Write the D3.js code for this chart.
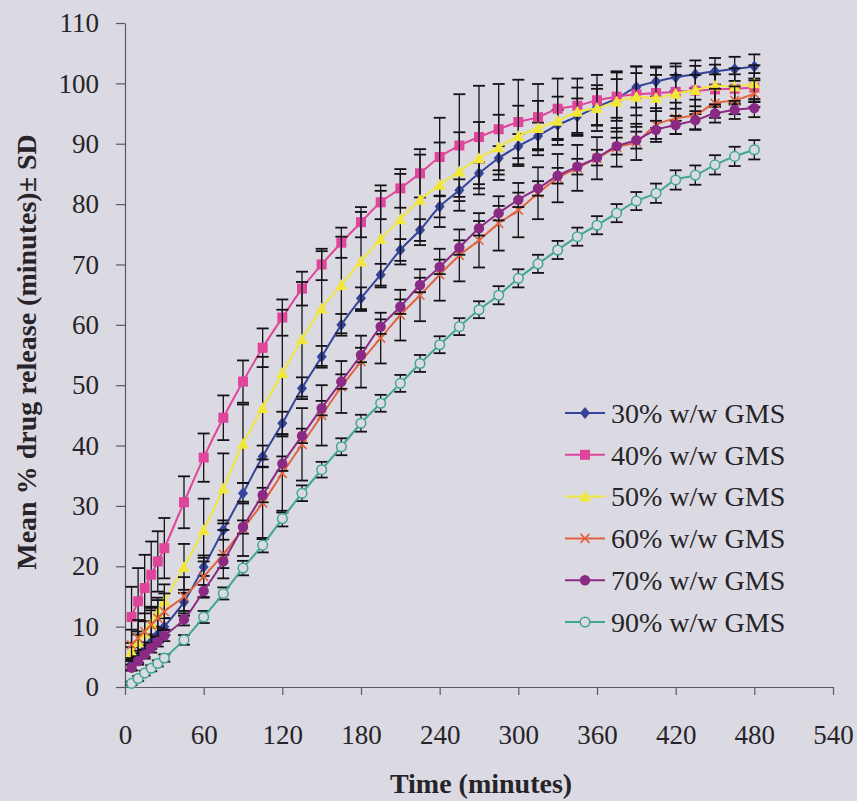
<!DOCTYPE html>
<html>
<head>
<meta charset="utf-8">
<script src="https://cdn.jsdelivr.net/npm/d3@7"></script>
<style>
  html, body { margin: 0; padding: 0; background: #dbd9e1; }
  svg { display: block; }
</style>
</head>
<body>
<svg id="chart" width="857" height="801"></svg>
<script>
// Sampling times (minutes)
const times = [5, 10, 15, 20, 25, 30, 45, 60, 75, 90, 105, 120, 135, 150, 165, 180, 195, 210,
               225, 240, 255, 270, 285, 300, 315, 330, 345, 360, 375, 390, 405, 420, 435, 450, 465, 480];

// Mean % drug release per formulation
const gms30 = [3.8, 5.0, 6.2, 7.5, 8.7, 10.0, 14.1, 19.9, 26.0, 32.1, 38.2, 43.7, 49.5, 54.7, 60.0, 64.4, 68.3, 72.4,
               75.7, 79.6, 82.3, 85.1, 87.6, 89.6, 91.3, 93.1, 94.5, 96.1, 97.5, 99.4, 100.3, 101.0, 101.5, 102.0, 102.4, 102.8];
const gms40 = [11.6, 14.2, 16.4, 18.6, 20.8, 23.0, 30.6, 38.0, 44.6, 50.6, 56.2, 61.2, 66.0, 70.0, 73.6, 77.0, 80.3, 82.6,
               85.1, 87.8, 89.7, 91.1, 92.4, 93.6, 94.4, 95.8, 96.3, 97.2, 97.8, 98.2, 98.4, 98.6, 98.8, 99.0, 99.1, 99.3];
const gms50 = [5.8, 7.4, 8.9, 10.5, 12.3, 14.2, 19.9, 26.0, 32.9, 40.3, 46.2, 52.0, 57.6, 62.7, 66.6, 70.5, 74.2, 77.5,
               80.7, 83.2, 85.4, 87.6, 89.4, 91.3, 92.6, 93.8, 95.3, 95.9, 97.0, 97.8, 97.6, 98.3, 98.9, 99.6, 99.5, 100.0];
const gms60 = [7.0, 8.1, 9.2, 10.3, 11.4, 12.5, 15.0, 18.3, 22.0, 26.2, 30.5, 35.4, 40.2, 45.0, 49.7, 53.9, 57.8, 61.6,
               64.9, 68.3, 71.5, 74.0, 76.8, 79.0, 81.8, 84.3, 86.0, 87.6, 89.4, 90.3, 93.1, 94.2, 94.8, 96.7, 97.2, 98.3];
const gms70 = [3.2, 4.3, 5.4, 6.5, 7.5, 8.5, 11.2, 15.9, 20.8, 26.5, 31.8, 37.0, 41.6, 46.2, 50.6, 55.0, 59.7, 63.0,
               66.6, 69.6, 72.8, 76.0, 78.5, 80.7, 82.6, 84.7, 86.2, 87.7, 89.6, 90.6, 92.3, 93.1, 93.9, 95.0, 95.6, 95.9];
const gms90 = [0.6, 1.4, 2.3, 3.1, 3.9, 4.8, 7.8, 11.6, 15.5, 19.7, 23.5, 27.9, 32.1, 36.0, 39.8, 43.7, 47.0, 50.3,
               53.6, 56.7, 59.7, 62.5, 64.9, 67.7, 70.1, 72.4, 74.6, 76.5, 78.5, 80.5, 81.8, 84.0, 84.8, 86.5, 87.9, 89.0];

// Standard deviations
const sd30 = [1.0, 1.0, 1.2, 1.2, 1.3, 1.4, 1.5, 1.5, 1.6, 1.7, 1.8, 1.9, 1.8, 1.8, 1.8, 1.8, 1.8, 1.8,
              1.8, 1.8, 1.8, 1.8, 2.0, 2.0, 2.2, 2.5, 3.0, 3.0, 3.2, 3.4, 2.5, 2.3, 2.3, 2.2, 2.0, 2.0];
const sd40 = [5.0, 5.5, 5.5, 5.5, 5.0, 5.0, 4.3, 4.0, 3.7, 3.5, 3.2, 3.0, 2.8, 2.6, 2.5, 2.5, 2.8, 3.2,
              4.0, 6.5, 8.5, 8.5, 7.5, 7.0, 5.5, 5.0, 4.5, 4.2, 4.0, 3.5, 3.0, 2.8, 2.6, 2.5, 2.4, 2.4];
const sd50 = [1.5, 1.8, 2.0, 2.2, 2.5, 2.8, 3.8, 5.2, 5.8, 6.5, 8.5, 10.5, 9.5, 9.5, 8.0, 8.2, 8.0, 7.5,
              7.5, 7.0, 6.5, 6.0, 5.4, 5.0, 4.5, 4.0, 4.0, 3.8, 5.0, 5.0, 5.0, 4.5, 4.0, 3.5, 3.0, 3.0];
const sd60 = [2.5, 3.0, 3.0, 3.0, 3.0, 3.0, 3.2, 3.5, 4.0, 4.5, 6.0, 6.5, 6.0, 5.0, 4.3, 4.3, 4.2, 4.2,
              4.3, 4.3, 4.3, 4.5, 4.5, 4.5, 4.3, 4.0, 3.8, 3.5, 3.2, 3.0, 2.8, 2.6, 2.5, 2.4, 2.3, 2.2];
const sd70 = [0.5, 0.6, 0.7, 0.8, 0.8, 0.9, 1.0, 1.0, 1.1, 1.1, 1.2, 1.2, 1.2, 1.2, 1.2, 1.2, 1.2, 1.2,
              1.2, 1.2, 1.2, 1.2, 1.2, 1.2, 1.2, 1.3, 1.3, 1.3, 1.4, 1.4, 1.5, 1.5, 1.5, 1.5, 1.5, 1.5];
const sd90 = [0.3, 0.4, 0.4, 0.5, 0.5, 0.6, 0.8, 1.0, 1.0, 1.2, 1.2, 1.3, 1.3, 1.3, 1.4, 1.4, 1.4, 1.4,
              1.4, 1.4, 1.4, 1.4, 1.5, 1.5, 1.5, 1.5, 1.5, 1.5, 1.5, 1.5, 1.6, 1.6, 1.6, 1.6, 1.6, 1.6];

const seriesNames = ["30% w/w GMS", "40% w/w GMS", "50% w/w GMS", "60% w/w GMS", "70% w/w GMS", "90% w/w GMS"];
const xTicks = [0, 60, 120, 180, 240, 300, 360, 420, 480, 540];
const yTicks = [0, 10, 20, 30, 40, 50, 60, 70, 80, 90, 100, 110];

const BG = "#dbd9e1";
const FONT = "'Liberation Serif', 'Times New Roman', serif";

const series = [
  { name: seriesNames[0], mean: gms30, sd: sd30, color: "#34449a", marker: "diamond" },
  { name: seriesNames[1], mean: gms40, sd: sd40, color: "#df459b", marker: "square" },
  { name: seriesNames[2], mean: gms50, sd: sd50, color: "#f1e73c", marker: "triangle" },
  { name: seriesNames[3], mean: gms60, sd: sd60, color: "#e2633f", marker: "cross" },
  { name: seriesNames[4], mean: gms70, sd: sd70, color: "#8b2a85", marker: "circle" },
  { name: seriesNames[5], mean: gms90, sd: sd90, color: "#3fa88c", marker: "open" }
];

const svg = d3.select("#chart");
svg.append("rect").attr("width", 857).attr("height", 801).attr("fill", BG);

const x = d3.scaleLinear().domain([0, 540]).range([125, 833]);
const y = d3.scaleLinear().domain([0, 110]).range([687, 23]);

// Axes
const yAxis = svg.append("g")
  .attr("transform", "translate(125,0)")
  .call(d3.axisLeft(y).tickValues(yTicks).tickSize(9).tickSizeOuter(0).tickPadding(17));
const xAxis = svg.append("g")
  .attr("transform", "translate(0,687)")
  .call(d3.axisBottom(x).tickValues(xTicks).tickSize(8).tickSizeOuter(0).tickPadding(30));

[yAxis, xAxis].forEach(g => {
  g.selectAll("path, line").attr("stroke", "#5a5a5e").attr("stroke-width", 1.2);
  g.selectAll("text").attr("font-family", FONT).attr("font-size", 27).attr("fill", "#262428");
});

// Axis titles
svg.append("text")
  .attr("transform", "translate(36,352) rotate(-90)")
  .attr("text-anchor", "middle")
  .attr("font-family", FONT).attr("font-weight", "bold").attr("font-size", 28)
  .attr("fill", "#262428")
  .text("Mean % drug release (minutes)\u00B1 SD");

svg.append("text")
  .attr("x", 481).attr("y", 793)
  .attr("text-anchor", "middle")
  .attr("font-family", FONT).attr("font-weight", "bold").attr("font-size", 28)
  .attr("fill", "#262428")
  .text("Time (minutes)");

// Marker drawing
function drawMarker(g, type, color, cx, cy) {
  if (type === "diamond") {
    g.append("path").attr("d", `M${cx},${cy - 6}L${cx + 5},${cy}L${cx},${cy + 6}L${cx - 5},${cy}Z`).attr("fill", color);
  } else if (type === "square") {
    g.append("rect").attr("x", cx - 5).attr("y", cy - 5).attr("width", 10).attr("height", 10).attr("fill", color);
  } else if (type === "triangle") {
    g.append("path").attr("d", `M${cx},${cy - 6}L${cx + 6},${cy + 5}L${cx - 6},${cy + 5}Z`).attr("fill", color);
  } else if (type === "cross") {
    g.append("path").attr("d", `M${cx - 4.5},${cy - 4.5}L${cx + 4.5},${cy + 4.5}M${cx - 4.5},${cy + 4.5}L${cx + 4.5},${cy - 4.5}`)
      .attr("stroke", color).attr("stroke-width", 1.6).attr("fill", "none");
  } else if (type === "circle") {
    g.append("circle").attr("cx", cx).attr("cy", cy).attr("r", 5.2).attr("fill", color);
  } else if (type === "open") {
    g.append("circle").attr("cx", cx).attr("cy", cy).attr("r", 4.8).attr("fill", BG)
      .attr("stroke", color).attr("stroke-width", 1.5);
  }
}

const line = d3.line()
  .x(d => x(d.t))
  .y(d => y(d.v))
  .curve(d3.curveCatmullRom.alpha(0.5));

const plot = svg.append("g");
series.forEach(s => {
  const pts = times.map((t, i) => ({ t, v: s.mean[i], sd: s.sd[i] }));
  const g = plot.append("g");

  // Error bars (± SD)
  const eb = g.append("g").attr("stroke", "#141216").attr("stroke-width", 1.3).attr("fill", "none");
  pts.forEach(p => {
    const px = x(p.t), top = y(p.v + p.sd), bot = y(p.v - p.sd);
    eb.append("line").attr("x1", px).attr("x2", px).attr("y1", top).attr("y2", bot);
    eb.append("line").attr("x1", px - 6).attr("x2", px + 6).attr("y1", top).attr("y2", top).attr("stroke-width", 1.8);
    eb.append("line").attr("x1", px - 6).attr("x2", px + 6).attr("y1", bot).attr("y2", bot).attr("stroke-width", 1.8);
  });

  g.append("path").datum(pts).attr("d", line)
    .attr("fill", "none").attr("stroke", s.color).attr("stroke-width", 2);

  const mg = g.append("g");
  pts.forEach(p => drawMarker(mg, s.marker, s.color, x(p.t), y(p.v)));
});

// Legend
const legend = svg.append("g");
series.forEach((s, i) => {
  const ly = 413 + i * 41.8;
  legend.append("line").attr("x1", 565).attr("x2", 605).attr("y1", ly).attr("y2", ly)
    .attr("stroke", s.color).attr("stroke-width", 2);
  drawMarker(legend, s.marker, s.color, 585, ly);
  legend.append("text").attr("x", 611).attr("y", ly).attr("dy", "0.35em")
    .attr("font-family", FONT).attr("font-size", 28).attr("fill", "#262428")
    .text(s.name);
});
</script>
</body>
</html>
